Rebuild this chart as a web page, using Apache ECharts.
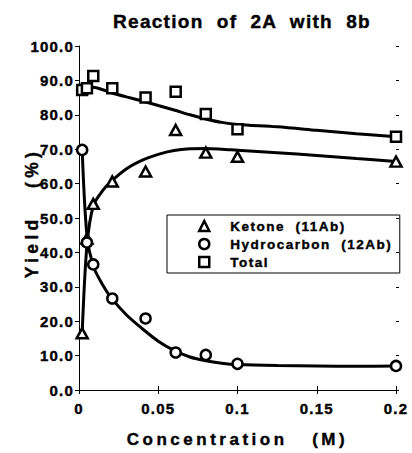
<!DOCTYPE html>
<html>
<head>
<meta charset="utf-8">
<script src="https://cdn.jsdelivr.net/npm/echarts@6/dist/echarts.min.js"></script>
<style>
html,body{margin:0;padding:0;background:#fff;}
#c{width:412px;height:453px;}
#c text{white-space:pre;stroke:#000;stroke-width:0.4px;}
#c text[style*="19px"]{letter-spacing:1.3px;}
#c text[style*="15px"]{letter-spacing:1.2px;}
#c text[style*="17px"]{letter-spacing:3.5px;}
#c text[style*="17.5px"]{letter-spacing:4.3px;}
#c text[style*="13.5px"]{letter-spacing:1.5px;}
</style>
</head>
<body>
<div id="c"></div>
<script>
// ---- data ----
const conc          = [0.002, 0.005, 0.009, 0.021, 0.042, 0.061, 0.080, 0.100, 0.200];
const ketone        = [16.5, 44.0, 54.1, 60.6, 63.5, 75.6, 69.0, 67.8, 66.4];
const hydrocarbon   = [69.8, 42.9, 36.5, 26.6, 20.8, 10.9, 10.2, 7.6, 7.0];
const total         = [87.2, 87.7, 91.3, 87.7, 85.0, 86.7, 80.2, 75.8, 73.6];

// fitted curves
const fitConc       = [0.002, 0.005, 0.009, 0.015, 0.02, 0.03, 0.04, 0.05, 0.06, 0.07, 0.08, 0.09, 0.1, 0.125, 0.15, 0.175, 0.2];
const ketoneFit     = [16.5, 42.0, 53.5, 58.0, 60.5, 64.3, 66.8, 68.5, 69.6, 70.1, 70.2, 70.0, 69.7, 69.0, 68.2, 67.3, 66.4];
const hydroFit      = [69.8, 45.0, 36.0, 30.5, 27.0, 21.8, 17.8, 14.2, 11.5, 9.6, 8.5, 7.8, 7.4, 7.1, 7.0, 6.9, 7.0];
const totalFit      = [87.2, 87.7, 88.0, 87.3, 86.5, 85.2, 84.0, 82.7, 81.4, 80.0, 78.8, 77.8, 77.2, 76.5, 75.5, 74.5, 73.6];

const xTickLabels   = ['0', '0.05', '0.1', '0.15', '0.2'];
const yTickLabels   = ['0.0','10.0','20.0','30.0','40.0','50.0','60.0','70.0','80.0','90.0','100.0'];

const seriesNames   = ['Ketone  (11Ab)', 'Hydrocarbon  (12Ab)', 'Total'];
const seriesIcons   = ['triangle', 'circle', 'rect'];
const titleText     = 'Reaction  of  2A  with  8b';
const xName         = 'Concentration   (M)';
const yName         = 'Yield   (%)';

// ---- chart ----
const FONT = '"Liberation Sans", Arial, Helvetica, sans-serif';
const zip = (xs, ys) => xs.map((x, i) => [x, ys[i]]);
const markerStyle = { color: '#fff', borderColor: '#000', borderWidth: 2.5, opacity: 1 };

const chart = echarts.init(document.getElementById('c'), null, { renderer: 'svg' });
chart.setOption({
  animation: false,
  backgroundColor: '#fff',
  title: {
    text: titleText, left: 108, top: 7,
    textStyle: { fontFamily: FONT, fontWeight: 'bold', fontSize: 19, color: '#000' }
  },
  grid: { left: 79, right: 16, top: 46, bottom: 63 },
  legend: {
    orient: 'vertical', left: 167, top: 215,
    data: seriesNames.map((n, i) => ({ name: n, icon: seriesIcons[i] })),
    selectedMode: false,
    itemWidth: 10, itemHeight: 10, itemGap: 4,
    padding: [4, 36, 4, 31],
    borderColor: '#000', borderWidth: 1,
    itemStyle: { color: '#fff', borderColor: '#000', borderWidth: 2.5 },
    textStyle: { fontFamily: FONT, fontWeight: 'bold', fontSize: 13.5, color: '#000', lineHeight: 12, padding: [0, 0, 0, 16] }
  },
  xAxis: [{
    type: 'value', min: 0, max: 0.2, interval: 0.05,
    name: xName, nameLocation: 'middle', nameGap: 41,
    nameTextStyle: { fontFamily: FONT, fontWeight: 'bold', fontSize: 17, color: '#000' },
    axisLine: { lineStyle: { color: '#000', width: 1 } },
    axisTick: { show: true, length: 4, lineStyle: { color: '#000' } },
    axisLabel: {
      margin: 11, fontFamily: FONT, fontWeight: 'bold', fontSize: 15, color: '#000',
      formatter: v => xTickLabels[Math.round(v / 0.05)]
    },
    splitLine: { show: false }
  }, {
    type: 'value', min: 0, max: 0.2, interval: 0.05, position: 'top', offset: -344,
    axisLine: { show: false }, axisLabel: { show: false }, splitLine: { show: false },
    axisTick: { show: true, length: 4, lineStyle: { color: '#000' } }
  }],
  yAxis: [{
    type: 'value', min: 0, max: 100, interval: 10,
    name: yName, nameLocation: 'middle', nameGap: 38, nameMoveOverlap: false,
    nameTextStyle: { fontFamily: FONT, fontWeight: 'bold', fontSize: 17.5, color: '#000', padding: [0, 0, 0, 10] },
    axisLine: { show: true, lineStyle: { color: '#000', width: 1 } },
    axisTick: { show: true, length: 4, lineStyle: { color: '#000' } },
    axisLabel: {
      margin: 5, fontFamily: FONT, fontWeight: 'bold', fontSize: 15, color: '#000',
      formatter: v => yTickLabels[Math.round(v / 10)]
    },
    splitLine: { show: false }
  }, {
    type: 'value', min: 0, max: 100, interval: 10, position: 'right', offset: -317,
    axisLine: { show: false }, axisLabel: { show: false }, splitLine: { show: false },
    axisTick: { show: true, length: 3, lineStyle: { color: '#000' } }
  }],
  series: [
    { type: 'line', name: 'ketoneFit', data: zip(fitConc, ketoneFit), smooth: 0.3, showSymbol: false, silent: true, z: 1,
      lineStyle: { color: '#000', width: 3 } },
    { type: 'line', name: 'hydroFit', data: zip(fitConc, hydroFit), smooth: 0.3, showSymbol: false, silent: true, z: 1,
      lineStyle: { color: '#000', width: 3 } },
    { type: 'line', name: 'totalFit', data: zip(fitConc, totalFit), smooth: 0.3, showSymbol: false, silent: true, z: 1,
      lineStyle: { color: '#000', width: 3 } },
    { type: 'scatter', name: seriesNames[0], data: zip(conc, ketone), symbol: 'triangle', symbolSize: [11, 10], z: 3,
      itemStyle: markerStyle, emphasis: { disabled: true } },
    { type: 'scatter', name: seriesNames[1], data: zip(conc, hydrocarbon), symbol: 'circle', symbolSize: 10, z: 3,
      itemStyle: markerStyle, emphasis: { disabled: true } },
    { type: 'scatter', name: seriesNames[2], data: zip(conc, total), symbol: 'rect', symbolSize: 10, z: 3,
      itemStyle: markerStyle, emphasis: { disabled: true } }
  ]
});
</script>
</body>
</html>
